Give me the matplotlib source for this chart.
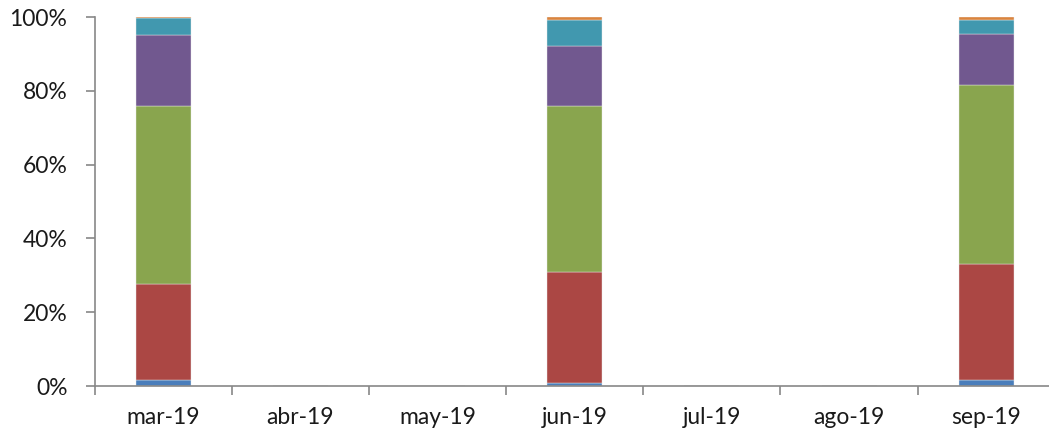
import matplotlib.pyplot as plt
import numpy as np
from matplotlib.ticker import PercentFormatter, FixedLocator

months = ['mar-19', 'abr-19', 'may-19', 'jun-19', 'jul-19', 'ago-19', 'sep-19']

# shares in %, NaN where no data
s1 = [1.7, np.nan, np.nan, 0.7, np.nan, np.nan, 1.6]
s2 = [25.9, np.nan, np.nan, 30.2, np.nan, np.nan, 31.5]
s3 = [48.3, np.nan, np.nan, 45.0, np.nan, np.nan, 48.4]
s4 = [19.1, np.nan, np.nan, 16.2, np.nan, np.nan, 13.8]
s5 = [4.7, np.nan, np.nan, 7.2, np.nan, np.nan, 4.0]
s6 = [0.3, np.nan, np.nan, 0.7, np.nan, np.nan, 0.7]

colors = ['#4A7EBB', '#AB4744', '#89A54E', '#71588F', '#4198AF', '#DB843D']

plt.rcParams['font.family'] = ['Lato', 'DejaVu Sans']

fig = plt.figure(figsize=(10.49, 4.36), dpi=100)
# plot area runs a little past the right edge of the picture, like the original
ax = fig.add_axes([94.5 / 1049, 1 - 386 / 436, 960.4 / 1049, 369 / 436])

x = np.arange(len(months))
bottom = np.zeros(len(months))
for vals, c in zip([s1, s2, s3, s4, s5, s6], colors):
    v = np.nan_to_num(np.array(vals, dtype=float))
    ax.bar(x, v, bottom=bottom, width=0.40, color=c, edgecolor='#e8e8e8',
           linewidth=0.3)
    bottom += v

ax.set_xlim(-0.5, len(months) - 0.5)
ax.set_ylim(0, 100)
ax.yaxis.set_major_formatter(PercentFormatter(decimals=0))
ax.set_yticks([0, 20, 40, 60, 80, 100])

ax.set_xticks(x)
ax.set_xticklabels(months)
ax.xaxis.set_minor_locator(FixedLocator(np.arange(-0.5, len(months), 1.0)))
ax.tick_params(axis='x', which='major', length=0, pad=15, labelsize=16.5,
               labelcolor='#1a1a1a')
ax.tick_params(axis='x', which='minor', length=6.5, color='#888888', width=1.2)
ax.tick_params(axis='y', length=6.5, color='#888888', width=1.2, pad=13,
               labelsize=16.5, labelcolor='#1a1a1a')

for side in ['top', 'right']:
    ax.spines[side].set_visible(False)
for side in ['left', 'bottom']:
    ax.spines[side].set_color('#888888')
    ax.spines[side].set_linewidth(1.2)

fig.savefig('out.png', dpi=100)
